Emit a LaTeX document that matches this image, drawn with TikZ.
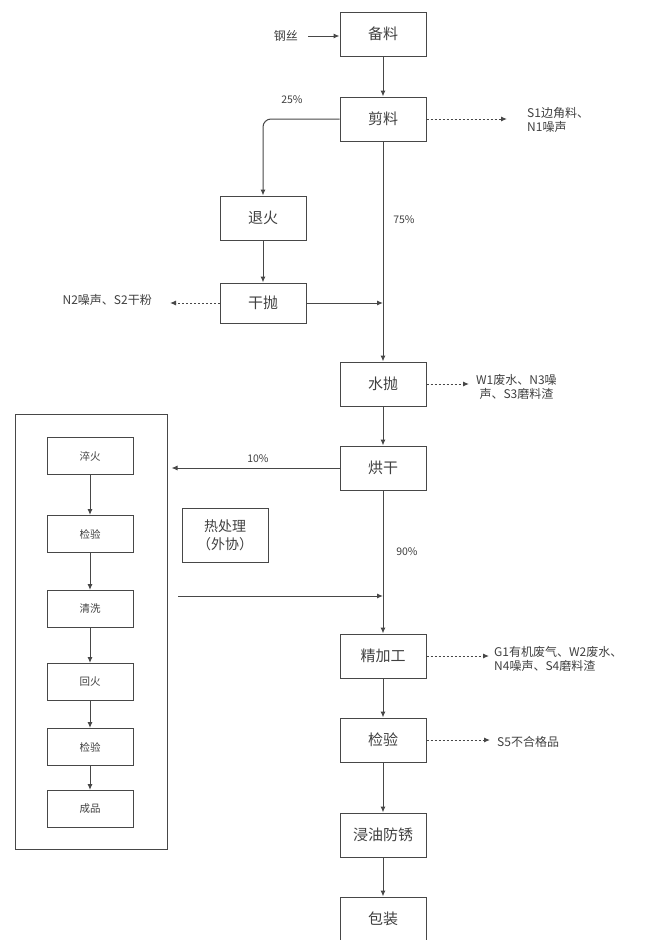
\documentclass[tikz,border=0pt]{standalone}
\usepackage{fontspec}
\setmainfont{Noto Sans CJK SC}
\usetikzlibrary{arrows.meta}

\begin{document}
\begin{tikzpicture}[x=1pt,y=-1pt,
    line/.style={draw=black!72, line width=1pt},
    stepbox/.style={line, text=black!75, minimum width=86pt, minimum height=44pt, font=\fontsize{15}{17}\selectfont},
    subbox/.style={line, text=black!75, minimum width=86pt, minimum height=37pt, font=\fontsize{10.5}{12}\selectfont},
    flow/.style={line, -{Latex[length=6pt,width=5pt]}},
    waste/.style={line, dash pattern=on 2pt off 2pt, -{Latex[length=6pt,width=5pt]}},
    note/.style={text=black!75, font=\fontsize{12}{14}\selectfont, inner sep=0pt},
    pct/.style={text=black!75, font=\fontsize{10.5}{12}\selectfont}]
  \useasboundingbox (0,0) rectangle (648,940);

  % main column
  \node[stepbox] (bl) at (383,34) {备料};
  \node[stepbox] (jl) at (383,119) {剪料};
  \node[stepbox] (sp) at (383,384) {水抛};
  \node[stepbox] (hg) at (383,468) {烘干};
  \node[stepbox] (jj) at (383,656) {精加工};
  \node[stepbox] (jy) at (383,740) {检验};
  \node[stepbox] (jf) at (383,835) {浸油防锈};
  \node[stepbox] (bz) at (383,919) {包装};

  % side branch
  \node[stepbox] (th) at (263,218) {退火};
  \node[stepbox, minimum height=40pt] (gp) at (263,303) {干抛};

  % heat treatment (outsourced)
  \node[line, minimum width=152pt, minimum height=435pt] (rcl) at (91,632) {};
  \node[stepbox, minimum height=54pt, align=center, font=\fontsize{14}{18}\selectfont] (wx) at (225,535) {热处理\\（外协）};
  \node[subbox] (s1) at (90,456) {淬火};
  \node[subbox] (s2) at (90,534) {检验};
  \node[subbox] (s3) at (90,609) {清洗};
  \node[subbox] (s4) at (90,682) {回火};
  \node[subbox] (s5) at (90,747) {检验};
  \node[subbox] (s6) at (90,809) {成品};
  \foreach \a/\b in {s1/s2, s2/s3, s3/s4, s4/s5, s5/s6}
    \draw[flow] (\a) -- (\b);

  % inputs and outputs
  \node[note, anchor=east] (gs) at (298,36) {钢丝};
  \node[note, anchor=west, align=left] (o1) at (527,120) {S1边角料、\\N1噪声};
  \node[note, anchor=east] (o2) at (152,300) {N2噪声、S2干粉};
  \node[note, anchor=west, align=center] (o3) at (476,387) {W1废水、N3噪\\声、S3磨料渣};
  \node[note, anchor=west, align=left] (o4) at (494,659) {G1有机废气、W2废水、\\N4噪声、S4磨料渣};
  \node[note, anchor=west] (o5) at (497,742) {S5不合格品};
  \coordinate (rin) at (178,596);

  % percentages
  \node[pct] at (292,100) {25\%};
  \node[pct] at (404,220) {75\%};
  \node[pct] at (258,459) {10\%};
  \node[pct] at (407,552) {90\%};

  % connectors
  \draw[flow] (gs.east) ++(10,0) -- (bl.west |- gs.east);
  \draw[flow] (bl) -- (jl);
  \draw[flow] (jl) -- (sp);
  \draw[flow] (sp) -- (hg);
  \draw[flow] (hg) -- (jj);
  \draw[flow] (jj) -- (jy);
  \draw[flow] (jy) -- (jf);
  \draw[flow] (jf) -- (bz);
  \draw[flow, rounded corners=8pt] (jl.west) -- (jl.west -| th.north) -- (th.north);
  \draw[flow] (th) -- (gp);
  \draw[flow] (gp.east) -- (gp.east -| jl.south);
  \draw[flow, shorten >=4pt] (hg.west) -- (hg.west -| rcl.east);
  \draw[flow] (rin) -- (rin -| hg.south);

  \draw[waste, shorten >=20pt] (jl.east) -- (jl.east -| o1.west);
  \draw[waste, shorten >=18pt] (gp.west) -- (gp.west -| o2.east);
  \draw[waste, shorten >=7pt] (sp.east) -- (sp.east -| o3.west);
  \draw[waste, shorten >=5pt] (jj.east) -- (jj.east -| o4.west);
  \draw[waste, shorten >=7pt] (jy.east) -- (jy.east -| o5.west);
\end{tikzpicture}
\end{document}
